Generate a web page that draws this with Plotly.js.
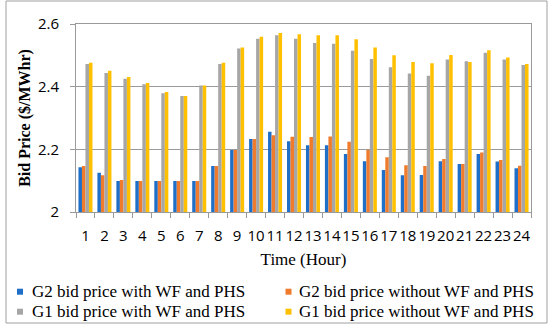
<!DOCTYPE html>
<html>
<head>
<meta charset="utf-8">
<script src="https://cdn.plot.ly/plotly-3.0.1.min.js"></script>
<style>html,body{margin:0;padding:0;background:#fff;}#chart{width:550px;height:329px;}</style>
</head>
<body>
<div id="chart"></div>
<script>
const hours = ['1','2','3','4','5','6','7','8','9','10','11','12','13','14','15','16','17','18','19','20','21','22','23','24'];
const seriesNames = ['G2 bid price with WF and PHS','G2 bid price without WF and PHS','G1 bid price with WF and PHS','G1 bid price without WF and PHS'];
const g2With    = [2.143,2.125,2.099,2.099,2.099,2.099,2.099,2.147,2.198,2.233,2.256,2.226,2.213,2.213,2.185,2.162,2.134,2.117,2.118,2.162,2.153,2.185,2.161,2.140];
const g2Without = [2.147,2.117,2.102,2.099,2.099,2.099,2.099,2.147,2.198,2.233,2.245,2.240,2.239,2.241,2.224,2.199,2.175,2.149,2.147,2.169,2.153,2.190,2.166,2.148];
const g1With    = [2.472,2.444,2.425,2.408,2.379,2.370,2.404,2.472,2.522,2.553,2.564,2.553,2.539,2.537,2.515,2.488,2.462,2.442,2.435,2.487,2.481,2.508,2.487,2.469];
const g1Without = [2.476,2.451,2.431,2.412,2.383,2.370,2.404,2.476,2.525,2.559,2.571,2.567,2.564,2.564,2.551,2.525,2.500,2.479,2.475,2.501,2.479,2.516,2.493,2.472];
const colors = ['#1f6fc9','#f07b2c','#a6a6a6','#ffc000'];
const allValues = [g2With, g2Without, g1With, g1Without];

const traces = allValues.map((vals, i) => ({
  type: 'bar', x: hours, y: vals, name: seriesNames[i],
  marker: {color: colors[i]}, hoverinfo: 'skip', showlegend: false
}));

// plot area in pixels: left 76, right 531, top 24, bottom 212
const L = 76, W = 455, B = 212, H = 188;
const px = v => (v - L) / W;
const py = v => (B - v) / H;

// custom legend (2 columns x 2 rows), text left positions and row centres
const legCols = [31, 298];
const legMarkX = [17, 285.5];
const legRows = [291.7, 311.7];
const legendAnn = [];
const legendShapes = [];
seriesNames.forEach((name, i) => {
  const c = i % 2, r = Math.floor(i / 2);
  legendAnn.push({
    text: name, xref: 'paper', yref: 'paper', x: px(legCols[c]), y: py(legRows[r]),
    xanchor: 'left', yanchor: 'middle', showarrow: false, borderpad: 0,
    font: {family: 'Liberation Serif, Times New Roman, serif', size: 17, color: '#000'}
  });
  legendShapes.push({
    type: 'rect', xref: 'paper', yref: 'paper',
    x0: px(legMarkX[c]), x1: px(legMarkX[c] + 6), y0: py(legRows[r] + 3), y1: py(legRows[r] - 3),
    line: {width: 0}, fillcolor: colors[i]
  });
});

const tickFont = {family: 'Open Sans, Liberation Sans, sans-serif', size: 15, color: '#000'};

const layout = {
  width: 550, height: 329,
  margin: {l: L, r: 550 - L - W, t: B - H, b: 329 - B},
  paper_bgcolor: '#fff', plot_bgcolor: '#fff',
  barmode: 'group', bargap: 0.26, bargroupgap: 0,
  font: {family: 'Liberation Sans, Arial, sans-serif', size: 14, color: '#000'},
  xaxis: {
    type: 'category', tickson: 'boundaries', ticks: 'outside', ticklen: 5, tickcolor: '#9a9a9a',
    tickangle: 0, ticklabelstandoff: 10,
    showline: true, linecolor: '#9a9a9a', linewidth: 1, mirror: true,
    showgrid: false, tickfont: tickFont,
    title: {text: 'Time (Hour)', font: {family: 'Liberation Serif, Times New Roman, serif', size: 17}, standoff: 9}
  },
  yaxis: {
    range: [2, 2.6], tickvals: [2, 2.2, 2.4, 2.6], ticktext: ['2','2.2','2.4','2.6'],
    ticks: 'outside', ticklen: 5, tickcolor: '#9a9a9a', ticklabelstandoff: 8,
    showline: true, linecolor: '#9a9a9a', linewidth: 1, mirror: true,
    showgrid: true, gridcolor: '#9a9a9a', gridwidth: 1, zeroline: false,
    tickfont: tickFont,
    title: {text: '<b>Bid Price ($/MWhr)</b>', font: {family: 'Liberation Serif, Times New Roman, serif', size: 16}, standoff: 3}
  },
  showlegend: false,
  annotations: legendAnn,
  shapes: [{
    type: 'rect', xref: 'paper', yref: 'paper',
    x0: px(6), x1: px(547), y0: py(323), y1: py(1),
    line: {color: '#a0a0a0', width: 1}, fillcolor: 'rgba(0,0,0,0)', layer: 'below'
  }].concat(legendShapes)
};

Plotly.newPlot('chart', traces, layout, {displayModeBar: false, staticPlot: true});
</script>
</body>
</html>
